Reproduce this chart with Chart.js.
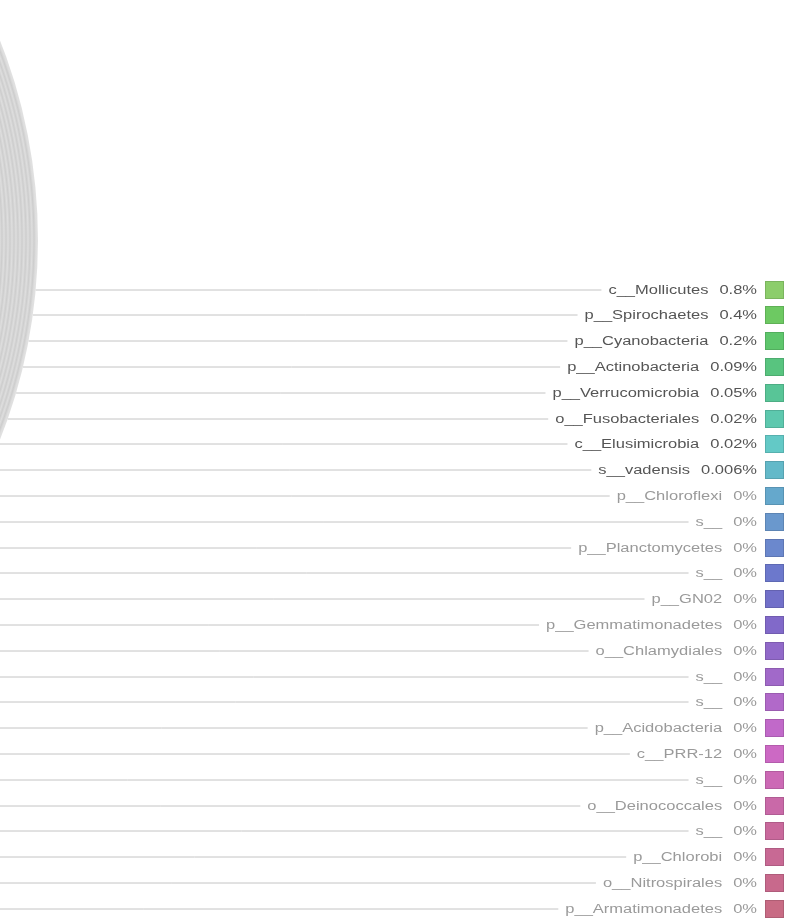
<!DOCTYPE html>
<html>
<head>
<meta charset="utf-8">
<script src="https://cdn.jsdelivr.net/npm/chart.js@4/dist/chart.umd.min.js"></script>
<style>
  html, body { margin: 0; padding: 0; background: #fff; }
  #wrap { position: relative; width: 793px; height: 923px; overflow: hidden; }
  /* the canvas is larger than the page: the pie centre lies off to the left */
  #holder { position: absolute; left: -1100px; top: -400px; width: 1900px; height: 1330px; }
</style>
</head>
<body>
<div id="wrap"><div id="holder"><canvas id="pie-chart"></canvas></div></div>
<script>
// taxa shown at the right edge of the pie
const taxa = [
    'c__Mollicutes', 'p__Spirochaetes', 'p__Cyanobacteria', 'p__Actinobacteria',
    'p__Verrucomicrobia', 'o__Fusobacteriales', 'c__Elusimicrobia', 's__vadensis',
    'p__Chloroflexi', 's__', 'p__Planctomycetes', 's__', 'p__GN02',
    'p__Gemmatimonadetes', 'o__Chlamydiales', 's__', 's__', 'p__Acidobacteria',
    'c__PRR-12', 's__', 'o__Deinococcales', 's__', 'p__Chlorobi',
    'o__Nitrospirales', 'p__Armatimonadetes'
];
const shares = [0.8, 0.4, 0.2, 0.09, 0.05, 0.02, 0.02, 0.006,
    0, 0, 0, 0, 0, 0, 0, 0, 0, 0, 0, 0, 0, 0, 0, 0, 0];
const shareLabels = ['0.8%', '0.4%', '0.2%', '0.09%', '0.05%', '0.02%', '0.02%', '0.006%',
    '0%', '0%', '0%', '0%', '0%', '0%', '0%', '0%', '0%', '0%', '0%', '0%', '0%', '0%', '0%', '0%', '0%'];
const swatches = [
    '#8ccd6b', '#6dc962', '#5ec66c', '#58c47f', '#58c597', '#5dc8ae', '#63c9c6', '#63b9c9',
    '#65a8cc', '#6a98cd', '#6b88cd', '#6c78cc', '#7270c9', '#8169c9', '#9169c9', '#a169c9',
    '#b169c9', '#c169c9', '#cc69c4', '#cc69b5', '#c969a8', '#c9699c', '#c86994', '#c8698c', '#c86b84'
];
// everything else in the pie (larger taxa, off to the left)
const restShare = 100 - shares.reduce((a, b) => a + b, 0);

const OFF_X = 1100, OFF_Y = 400;   // page origin inside the canvas

// gray disc with fine concentric bands near the rim
function rimFill(context) {
    const area = context.chart.chartArea;
    if (!area || area.width < 200) return '#d6d6d6';
    const cx = (area.left + area.right) / 2;
    const cy = (area.top + area.bottom) / 2;
    const r = Math.min(area.width, area.height) / 2;
    const g = context.chart.ctx.createRadialGradient(cx, cy, 0, cx, cy, r);
    const clamp = v => Math.min(1, Math.max(0, v));
    g.addColorStop(0, '#d6d6d6');
    const start = r - 48;
    g.addColorStop(clamp(start / r), '#d6d6d6');
    for (let d = start, k = 0; d < r - 1; d += 2, k++) {
        g.addColorStop(clamp(d / r), k % 2 ? '#dedede' : '#cdcdcd');
    }
    g.addColorStop(1, '#e2e2e2');
    return g;
}

const labelPlugin = {
    id: 'sideLabels',
    afterDraw(chart) {
        const ctx = chart.ctx;
        const arc = chart.getDatasetMeta(0).data[0];
        const cx = arc.x - OFF_X, cy = arc.y - OFF_Y, r = arc.outerRadius;
        const rowTop = 289.5, rowStep = 25.8;
        const boxX = 765, boxSize = 18;
        const pctRight = 757, stretch = 1.32;
        ctx.save();
        ctx.translate(OFF_X, OFF_Y);
        ctx.font = "12.5px 'Liberation Sans', Arial, sans-serif";
        ctx.textBaseline = 'middle';
        taxa.forEach((name, i) => {
            const y = Math.round(rowTop + i * rowStep);
            const dark = shares[i] > 0;
            const pctW = ctx.measureText(shareLabels[i]).width * stretch;
            const nameRight = pctRight - pctW - 11;
            const nameW = ctx.measureText(name).width * stretch;
            const lineEnd = nameRight - nameW - 7;
            const dy = y - cy;
            const lineStart = Math.abs(dy) < r ? cx + Math.sqrt(r * r - dy * dy) : -OFF_X;

            ctx.strokeStyle = '#c4c4c4';
            ctx.lineWidth = 1;
            ctx.beginPath();
            ctx.moveTo(lineStart, y);
            ctx.lineTo(lineEnd, y);
            ctx.stroke();

            ctx.fillStyle = dark ? '#555555' : '#9a9a9a';
            ctx.textAlign = 'right';
            ctx.save();
            ctx.translate(nameRight, y + 0.5);
            ctx.scale(stretch, 1);
            ctx.fillText(name, 0, 0);
            ctx.restore();
            ctx.save();
            ctx.translate(pctRight, y + 0.5);
            ctx.scale(stretch, 1);
            ctx.fillText(shareLabels[i], 0, 0);
            ctx.restore();

            ctx.fillStyle = swatches[i];
            ctx.fillRect(boxX, y - boxSize / 2, boxSize + 1, boxSize);
            ctx.strokeStyle = 'rgba(0,0,0,0.12)';
            ctx.strokeRect(boxX + 0.5, y - boxSize / 2 + 0.5, boxSize, boxSize - 1);
        });
        ctx.restore();
    }
};

new Chart(document.getElementById('pie-chart').getContext('2d'), {
    type: 'pie',
    data: {
        labels: taxa.concat(['other']),
        datasets: [{
            data: shares.concat([restShare]),
            backgroundColor: rimFill,
            borderColor: rimFill,
            borderWidth: 0,
            hoverOffset: 0
        }]
    },
    options: {
        responsive: true,
        maintainAspectRatio: false,
        animation: false,
        events: [],
        layout: { padding: { left: 48, right: 762, top: 95, bottom: 145 } },
        plugins: {
            legend: { display: false },
            tooltip: { enabled: false }
        }
    },
    plugins: [labelPlugin]
});
</script>
</body>
</html>
